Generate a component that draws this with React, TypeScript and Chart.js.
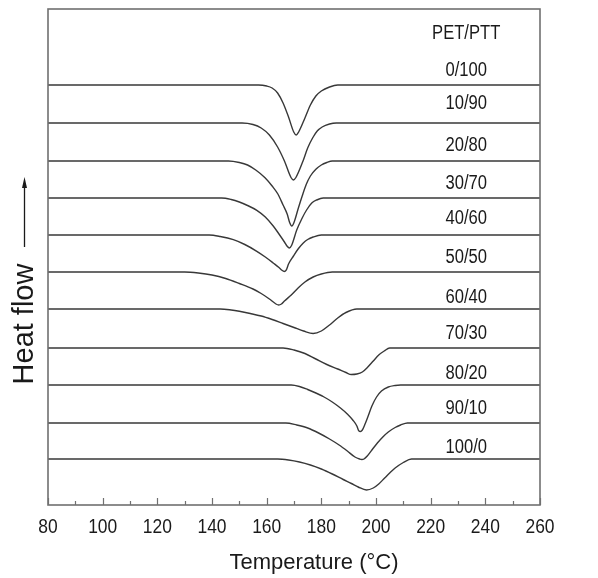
import React, { useEffect, useRef } from "react";
import { Chart, registerables } from "chart.js";

Chart.register(...registerables);

// Temperature (°C) / depth below each curve's own baseline
const t0_100 = [80, 157, 160, 162, 164, 166, 168, 169.9, 170.8, 171.7, 174, 176, 178, 180, 183, 186, 260];
const d0_100 = [0, 0, 1, 3, 8, 18, 32, 47, 50, 47, 33, 20, 11, 6, 2, 0, 0];

const t10_90 = [80, 151, 155, 158, 161, 164, 166.5, 168.9, 169.8, 170.7, 173.3, 175, 176.8, 178.5, 180.3, 183, 185.5, 260];
const d10_90 = [0, 0, 1.5, 5, 12, 24, 38, 54.5, 57, 54.5, 38, 25, 15, 8, 4, 1, 0, 0];

const t20_80 = [80, 146, 150, 153, 156, 159.4, 162, 164.1, 166, 167.5, 168.4, 169.2, 170.0, 171.6, 173, 174.5, 176, 178, 180, 182, 184, 260];
const d20_80 = [0, 0, 1.5, 4, 9, 16.7, 25, 33, 44, 53, 61.5, 65, 61.5, 47, 35, 23.3, 15, 8.3, 4, 1.5, 0, 0];

const t30_70 = [80, 143.5, 147, 150, 153, 156.4, 159.5, 162.4, 164.5, 166.5, 167.5, 168.3, 169.1, 171, 173, 174.6, 176.5, 178.3, 180.7, 260];
const d30_70 = [0, 0, 1.5, 4, 7.5, 12.3, 19, 28, 36, 44, 48.3, 50, 47.5, 32, 20, 12, 5, 2, 0, 0];

const t40_60 = [80, 139, 143, 147.8, 152, 156.4, 159.5, 162.4, 164.5, 165.6, 166.4, 167.2, 168, 169.8, 171.5, 173.4, 175, 177, 180, 260];
const d40_60 = [0, 0, 1.5, 4.7, 9.5, 16.3, 22, 28, 32.5, 35.3, 36.5, 34.8, 29, 21, 14, 8, 4.5, 2, 0, 0];

const t50_50 = [80, 130, 135, 140, 145, 150, 155, 158, 161, 163.4, 164.4, 165.4, 166.5, 169, 171.5, 174, 177, 180, 184, 260];
const d50_50 = [0, 0, 1, 3, 6.5, 11.5, 17, 21.5, 27, 32, 33, 32, 29, 23, 16, 10, 5, 2, 0, 0];

const t60_40 = [80, 143, 147, 150, 154, 158, 162, 166, 170, 173.5, 177, 180, 183, 186, 189, 193, 260];
const d60_40 = [0, 0, 1, 2.3, 4.5, 7, 10.5, 14.5, 18.5, 22, 24.5, 22, 16, 9, 3.5, 0, 0];

const t70_30 = [80, 166, 170, 174, 178, 182, 186, 189, 191, 193, 195, 197, 199, 201, 203, 205, 260];
const d70_30 = [0, 0, 2, 5.5, 11, 16.5, 21, 24.5, 26.5, 26, 24, 19, 13, 7, 3, 0, 0];

const t80_20 = [80, 169, 172, 175, 178, 181, 184, 187, 189.5, 191.5, 193, 193.6, 194.3, 195.0, 196, 197, 198.5, 200.2, 202, 204.5, 207, 209, 260];
const d80_20 = [0, 0, 1.5, 4.5, 8, 12, 17, 23, 29, 35, 41, 45.3, 46.5, 45, 39, 32, 21, 12, 6, 2, 0.5, 0, 0];

const t90_10 = [80, 167, 171, 175, 179, 183, 186.5, 189.5, 192.3, 194.0, 194.8, 195.6, 196.8, 198.5, 200.5, 202.5, 204.5, 207, 209, 211.5, 260];
const d90_10 = [0, 0, 2, 5, 10, 16, 22, 28, 34, 36, 36.5, 36, 33, 27, 20, 14, 9, 4.5, 2, 0, 0];

const t100_0 = [80, 164, 168, 172, 176, 180, 184, 188, 191, 193.5, 196.5, 199, 201, 203, 205, 207, 210, 213, 260];
const d100_0 = [0, 0, 1, 3, 6, 10, 15, 20.5, 24.5, 28, 31, 29, 25, 19.5, 14, 9, 3.5, 0, 0];

const curveNames = ["0/100", "10/90", "20/80", "30/70", "40/60", "50/50", "60/40", "70/30", "80/20", "90/10", "100/0"];
const curveTemps = [t0_100, t10_90, t20_80, t30_70, t40_60, t50_50, t60_40, t70_30, t80_20, t90_10, t100_0];
const curveDepths = [d0_100, d10_90, d20_80, d30_70, d40_60, d50_50, d60_40, d70_30, d80_20, d90_10, d100_0];
const baselines = [420, 382, 344, 307, 270, 233, 196, 157, 120, 82, 46];

const labelTexts = ["PET/PTT", ...curveNames];
const labelValues = [472, 435, 402, 360, 322, 287, 248, 208, 172, 132, 97, 58];
const labelTemp = 233;

const xMin = 80;
const xMax = 260;
const xStep = 20;
const xMinorStep = 10;

const SANS = "'Liberation Sans', Arial, sans-serif";
const SQUEEZE = 0.83;

function drawSqueezed(ctx: CanvasRenderingContext2D, text: string, x: number, y: number) {
  ctx.save();
  ctx.translate(x, y);
  ctx.scale(SQUEEZE, 1);
  ctx.fillText(text, 0, 0);
  ctx.restore();
}

const decorPlugin = {
  id: "decor",
  afterDatasetsDraw(chart: any) {
    const { ctx, chartArea, scales } = chart;
    const xs = scales.x;
    const ys = scales.y;
    ctx.save();
    // frame
    ctx.strokeStyle = "#707070";
    ctx.lineWidth = 1.6;
    ctx.strokeRect(chartArea.left, chartArea.top, chartArea.right - chartArea.left, chartArea.bottom - chartArea.top);
    // inward ticks (major from library ticks, minor halfway)
    ctx.lineWidth = 1.2;
    ctx.beginPath();
    for (let v = xMin; v <= xMax + 1e-6; v += xMinorStep) {
      const major = Math.abs((v - xMin) % xStep) < 1e-6;
      const px = Math.round(xs.getPixelForValue(v)) + 0.5;
      ctx.moveTo(px, chartArea.bottom);
      ctx.lineTo(px, chartArea.bottom - (major ? 7 : 4));
    }
    ctx.stroke();

    ctx.fillStyle = "#1a1a1a";
    ctx.textAlign = "center";
    ctx.textBaseline = "middle";
    // x tick labels (narrow face)
    ctx.font = `21px ${SANS}`;
    xs.ticks.forEach((t: any) => {
      drawSqueezed(ctx, String(t.value), xs.getPixelForValue(t.value), chartArea.bottom + 22);
    });
    // x title
    ctx.font = `22px ${SANS}`;
    ctx.fillText("Temperature (°C)", (chartArea.left + chartArea.right) / 2 + 20, 563);
    // curve labels
    ctx.font = `20px ${SANS}`;
    labelTexts.forEach((txt, i) => {
      drawSqueezed(ctx, txt, xs.getPixelForValue(labelTemp), ys.getPixelForValue(labelValues[i]));
    });
    // y title with arrow
    ctx.save();
    ctx.translate(25, 324);
    ctx.rotate(-Math.PI / 2);
    ctx.font = `29px ${SANS}`;
    ctx.fillText("Heat flow", 0, 0);
    ctx.restore();
    ctx.strokeStyle = "#1a1a1a";
    ctx.lineWidth = 1.3;
    ctx.beginPath();
    ctx.moveTo(24.5, 247);
    ctx.lineTo(24.5, 186);
    ctx.stroke();
    ctx.beginPath();
    ctx.moveTo(24.5, 177);
    ctx.lineTo(22, 188);
    ctx.lineTo(27, 188);
    ctx.closePath();
    ctx.fill();
    ctx.restore();
  },
};

export default function App() {
  const ref = useRef<HTMLCanvasElement>(null);
  useEffect(() => {
    if (!ref.current) return;
    const datasets = curveNames.map((name, i) => ({
      label: name,
      data: curveTemps[i].map((t, j) => ({ x: t, y: baselines[i] - curveDepths[i][j] })),
      borderColor: "#383838",
      borderWidth: 1.4,
      pointRadius: 0,
      fill: false,
      cubicInterpolationMode: "monotone" as const,
    }));
    const chart = new Chart(ref.current, {
      type: "line",
      data: { datasets },
      options: {
        animation: false,
        responsive: false,
        layout: { padding: { left: 48, right: 58, top: 9, bottom: 0 } },
        plugins: { legend: { display: false }, tooltip: { enabled: false } },
        scales: {
          x: {
            type: "linear",
            min: xMin,
            max: xMax,
            grid: { display: false, drawTicks: false },
            border: { display: false },
            ticks: { stepSize: xStep, display: false },
            afterFit: (s: any) => {
              s.height = 73;
            },
          },
          y: { type: "linear", display: false, min: 0, max: 496 },
        },
      },
      plugins: [decorPlugin],
    });
    return () => chart.destroy();
  }, []);
  return (
    <div style={{ position: "fixed", left: 0, top: 0, width: 598, height: 578, background: "#fff" }}>
      <canvas ref={ref} width={598} height={578} style={{ display: "block" }} />
    </div>
  );
}
